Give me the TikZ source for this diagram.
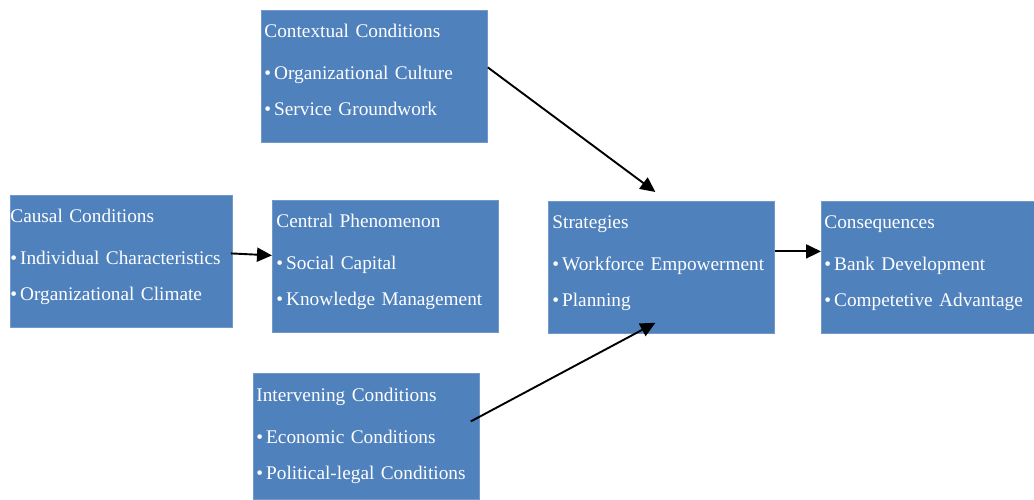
\documentclass[tikz,border=0pt]{standalone}
\usepackage{fontspec}
\setmainfont{Liberation Serif}
\usepackage{xcolor}
\usetikzlibrary{arrows.meta}

\definecolor{boxblue}{HTML}{4F81BD}
\definecolor{boxedge}{HTML}{7399CB}

% bullet item inside a box
\newcommand{\itm}{\textbullet\kern3pt}

\begin{document}
\begin{tikzpicture}[x=1pt, y=-1pt,
			box/.style={draw=boxedge, line width=0.8pt, fill=boxblue, rectangle, anchor=north west,
				minimum height=132pt, inner xsep=3pt, inner ysep=0pt, text width=220pt, align=left,
				text height=14pt, text depth=92pt,
				text=white, font=\fontsize{19.3}{23}\selectfont},
			arrow/.style={-{Triangle[length=15pt,width=14pt]}, line width=1.9pt}]
			
			\useasboundingbox (0,0) rectangle (1034,499);
			
			\node[box] (ctx) at (261,10) {Contextual Conditions\\[19pt]\itm Organizational Culture\\[13pt]\itm Service Groundwork};
			\node[box, inner xsep=0pt, text width=222pt] (cause) at (10,195) {Causal Conditions\\[19pt]\itm Individual Characteristics\\[13pt]\itm Organizational Climate};
			\node[box, inner xsep=4pt, text width=218pt] (central) at (272,200) {Central Phenomenon\\[19pt]\itm Social Capital\\[13pt]\itm Knowledge Management};
			\node[box, inner xsep=4pt, text width=218pt] (strat) at (548,201) {Strategies\\[19pt]\itm Workforce Empowerment\\[13pt]\itm Planning};
			\node[box, text width=207pt] (conseq) at (821,201) {Consequences\\[19pt]\itm Bank Development\\[13pt]\itm Competetive Advantage};
			\node[box, minimum height=126pt, text depth=84pt] (interv) at (253,373) {Intervening Conditions\\[19pt]\itm Economic Conditions\\[13pt]\itm Political-legal Conditions};
			
			\draw[arrow] ([yshift=9pt]ctx.east) -- ([xshift=-6pt,yshift=9pt]strat.north);
			\draw[arrow] ([xshift=-2pt,yshift=8pt]cause.east) -- ([yshift=11pt]central.west);
			\draw[arrow] ([yshift=16pt]strat.east) -- ([yshift=16pt]conseq.west);
			\draw[arrow] ([xshift=-9pt,yshift=15pt]interv.east) -- ([xshift=-6pt,yshift=11pt]strat.south);
			
		\end{tikzpicture}
\end{document}
